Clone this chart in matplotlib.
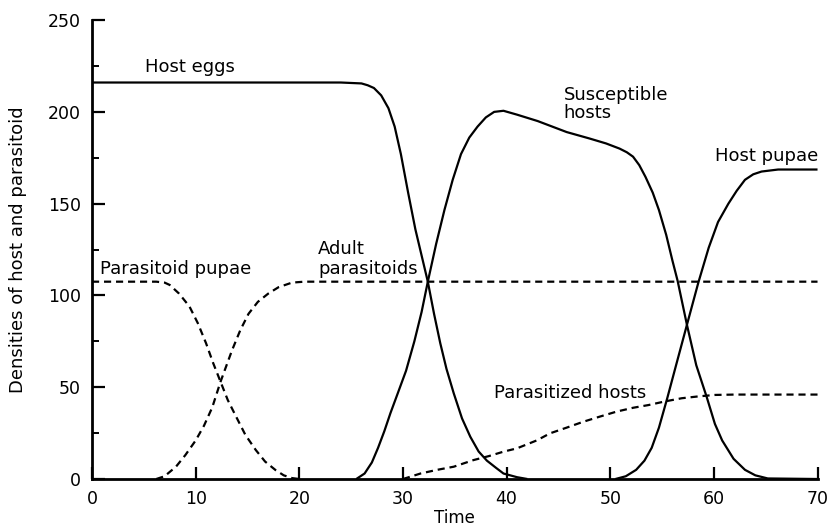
import matplotlib
matplotlib.use("Agg")
import matplotlib.pyplot as plt
import matplotlib.ticker as ticker

# values
eggs_x = [0, 24, 26, 26.6, 27.2, 27.9, 28.6, 29.2, 29.8, 30.5, 31.2, 32, 32.4, 33, 33.6, 34.2, 34.9, 35.7, 36.5,
          37.3, 38.1, 39, 39.7, 41, 42]
eggs_y = [216, 216, 215.5, 214.5, 213, 209, 202, 192, 177, 156, 136, 117, 107.5, 90, 74, 60, 46.7, 33, 23,
          15, 10, 6, 3, 1, 0]

susc_x = [25.5, 26.3, 27, 27.6, 28.2, 28.8, 29.5, 30.3, 31.1, 31.8, 32.4, 33.2, 34, 34.8, 35.6, 36.4, 37.2, 38,
          38.8, 39.7, 41, 43, 45.8, 48, 49.6, 50.9, 51.6, 52.2, 52.8, 53.4, 54.1, 54.7, 55.4, 56, 56.5, 57.4, 58.3,
          59.3, 60.1, 60.8, 61.9, 63, 64, 65.2, 70]
susc_y = [0, 3, 9, 17, 26, 36, 46.7, 59, 75, 91, 107.5, 128, 146.5, 163, 177, 186, 192, 197,
          200, 200.6, 198.5, 195, 189, 185.5, 182.8, 180, 178, 175.6, 171, 164.6, 156, 146.5, 133, 119, 108, 84, 62,
          44.8, 30, 21, 11, 5, 2, 0.3, 0]

pupae_x = [50.5, 51.5, 52.5, 53.3, 54, 54.7, 55.5, 56.4, 57.4, 58.5, 59.5, 60.4, 61.4, 62.2, 63, 63.8, 64.6, 66.2, 70]
pupae_y = [0, 1.5, 5, 10, 17, 28, 44, 63, 84, 107, 126, 140, 150, 157, 163, 166, 167.5, 168.6, 168.6]

ppupae_x = [0, 6.2, 7, 7.5, 8.4, 9.4, 10.2, 11, 11.7, 12.4, 13.1, 13.9, 14.8, 15.8, 16.7, 17.7, 18.5, 19.3, 20]
ppupae_y = [107.5, 107.5, 107, 105.7, 101, 94, 85, 74, 63, 53, 43, 34, 24, 15.8, 9.5, 4.9, 2, 0.5, 0]

adult_x = [6.2, 7, 8.1, 9, 10, 10.8, 11.6, 12.4, 13.5, 14.3, 15.1, 16, 17, 18, 19.3, 20.5, 70]
adult_y = [0, 1.5, 6.7, 13, 21, 29, 39, 53, 70, 81, 90, 96.5, 101, 104.5, 107, 107.5, 107.5]

parz_x = [30, 31.7, 33.3, 34.9, 36.8, 38.3, 39.7, 41, 42.9, 44.2, 45.8, 47.4, 49, 50.6, 52.2, 53.7, 55.3, 56.9,
          58.5, 60.1, 62, 70]
parz_y = [0, 3, 5, 6.7, 10.3, 12.5, 14.9, 16.7, 21, 24.9, 28, 31.2, 34, 36.7, 38.8, 40.3, 42.3, 44,
          45, 45.8, 46, 46]

fig = plt.figure(figsize=(8.32, 5.29), dpi=100)
ax = fig.add_axes([0.1106, 0.0945, 0.872, 0.8675])

solid = dict(color="black", lw=1.6, solid_capstyle="butt")
dashed = dict(color="black", lw=1.6, linestyle=(0, (3.2, 2.2)))

ax.plot(eggs_x, eggs_y, **solid)
ax.plot(susc_x, susc_y, **solid)
ax.plot(pupae_x, pupae_y, **solid)
ax.plot(ppupae_x, ppupae_y, **dashed)
ax.plot(adult_x, adult_y, **dashed)
ax.plot(parz_x, parz_y, **dashed)

# curve labels
fs = 13
ax.text(5.07, 221.6, "Host eggs", fontsize=fs, va="baseline")
ax.text(45.5, 206.5, "Susceptible", fontsize=fs, va="baseline")
ax.text(45.5, 196.6, "hosts", fontsize=fs, va="baseline")
ax.text(60.1, 173.3, "Host pupae", fontsize=fs, va="baseline")
ax.text(0.8, 111.8, "Parasitoid pupae", fontsize=fs, va="baseline")
ax.text(21.8, 122.6, "Adult", fontsize=fs, va="baseline")
ax.text(21.8, 111.8, "parasitoids", fontsize=fs, va="baseline")
ax.text(38.8, 44.1, "Parasitized hosts", fontsize=fs, va="baseline")

ax.set_xlim(0, 70)
ax.set_ylim(0, 250)
ax.xaxis.set_major_locator(ticker.MultipleLocator(10))
ax.yaxis.set_major_locator(ticker.MultipleLocator(50))
ax.yaxis.set_minor_locator(ticker.MultipleLocator(25))
ax.tick_params(which="major", direction="in", length=9, width=1.6, labelsize=12.5, pad=8)
ax.tick_params(which="minor", direction="in", length=5, width=1.4)
ax.tick_params(axis="x", which="minor", length=0)

for s in ["top", "right"]:
    ax.spines[s].set_visible(False)
for s in ["left", "bottom"]:
    ax.spines[s].set_linewidth(2)

ax.set_xlabel("Time", fontsize=12)
ax.set_ylabel("Densities of host and parasitoid", fontsize=13)
ax.xaxis.set_label_coords(0.5, -0.066)
ax.yaxis.set_label_coords(-0.089, 0.5)

fig.savefig("out.png", dpi=100)
